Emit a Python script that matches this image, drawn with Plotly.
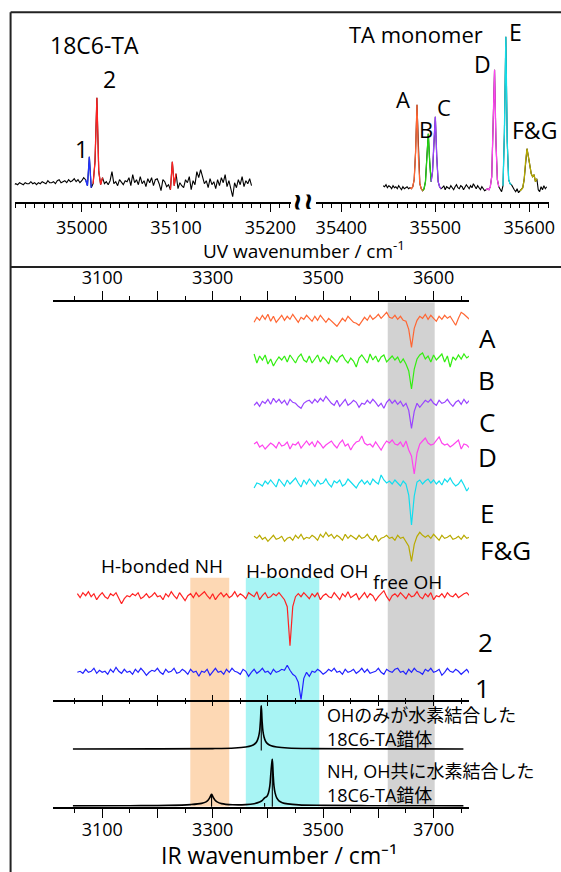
import plotly.graph_objects as go

W, H = 561, 872
FONT = "Comic Sans MS, Open Sans, Noto Sans CJK JP, sans-serif"

# ------------------------------------------------------------------ data
# UV spectrum, left part (18C6-TA complex region)
UV_LEFT_START = 34928.0
UV_LEFT_STEP = 2.0
UV_LEFT_SIGNAL = [
    17, 18, 17, 19, 18, 17, 19, 18, 18, 20,
    18, 19, 17, 19, 18, 20, 19, 18, 21, 19,
    19, 20, 18, 21, 22, 19, 20, 21, 19, 22,
    20, 21, 23, 20, 22, 19, 21, 24, 22, 16,
    45, 14, 18, 40, 104, 30, 17, 24, 18, 20,
    17, 21, 30, 18, 20, 16, 22, 19, 17, 21,
    20, 24, 16, 27, 19, 22, 17, 25, 18, 21,
    15, 23, 19, 24, 16, 22, 23, 18, 11, 22,
    20, 15, 17, 12, 40, 16, 28, 13, 19, 16,
    14, 22, 19, 25, 12, 21, 17, 30, 24, 32,
    26, 18, 21, 14, 23, 17, 20, 13, 22, 16,
    24, 19, 27, 15, 21, 11, 5, 19, 14, 22,
    17, 25, 15, 21, 18, 23, 16,
]
# UV spectrum, right part (TA monomer region)
UV_RIGHT_START = 35444.5
UV_RIGHT_STEP = 1.5
UV_RIGHT_SIGNAL = [
    16, 15, 17, 14, 16, 15, 13, 16, 14, 15,
    13, 16, 14, 12, 15, 13, 14, 15, 13, 14,
    13, 15, 22, 50, 97, 45, 18, 13, 11, 13,
    20, 45, 68, 40, 20, 30, 60, 85, 45, 20,
    15, 13, 14, 16, 12, 15, 14, 13, 16, 14,
    12, 15, 17, 14, 13, 16, 15, 12, 14, 17,
    15, 13, 16, 14, 18, 15, 13, 16, 14, 12,
    15, 13, 11, 12, 13, 12, 15, 25, 70, 132,
    60, 22, 15, 13, 10, 16, 70, 165, 60, 22,
    18, 17, 14, 12, 10, 13, 9, 11, 12, 14,
    22, 40, 53, 45, 35, 28, 25, 27, 20, 23,
    12, 10, 15, 12, 16, 13, 15,
]
# coloured band assignments (wavenumber ranges of each UV band)
UV_LEFT_BANDS = [("1", 35003, 35011), ("2", 35011, 35023), ("2", 35093, 35101)]
UV_RIGHT_BANDS = [("A", 35472, 35488), ("B", 35486.5, 35495.5), ("C", 35495.5, 35506),
                  ("D", 35554, 35568), ("E", 35572, 35581), ("F&G", 35590, 35609)]
UV_LEFT_TICKS = [35000, 35100, 35200]
UV_RIGHT_TICKS = [35400, 35500, 35600]

# IR dip spectra (monomer bands A..F&G)
IR_MONO_START = 3375
IR_STEP = 5
IR_A = [-3, 2, -1, 4, 0, 5, -2, 3, -3, 1,
        4, -1, 3, 0, 5, 1, -3, 2, 0, 4,
        1, -2, 3, -1, 4, 0, -3, 1, -2, -4,
        -7, -3, 1, -2, 3, 0, -3, -4, -6, -2,
        2, -1, 4, 0, 2, 5, 1, 4, 7, 2,
        1, 4, 0, 3, -1, -2, -10, -28, -9, -1,
        3, 1, 5, 0, 4, 1, -2, 3, 0, 4,
        1, 3, -2, -6, 1, 7, 5, 2, 0]
IR_B = [6, -3, 4, 0, 5, -4, 1, -6, -1, 3,
        0, 4, -2, 5, 1, -3, 3, 6, 0, -2,
        4, -3, 1, 5, -2, 3, 0, -4, 4, 1,
        -2, 3, 5, 0, -3, 2, -1, -7, 2, 5,
        1, -3, 6, 0, 4, -2, 3, 5, -2, 1,
        4, 0, 3, -3, 1, -4, -11, -29, -9, 1,
        5, 7, 1, 4, -2, 5, 0, 3, 6, -2,
        4, -7, 3, 0, 5, 1, 6, 2, 4]
IR_C = [-2, 1, -3, 2, 0, 4, -1, 5, 1, 4,
        0, 3, -2, 4, 1, 0, -3, -5, 0, 2,
        3, 0, 4, 1, 5, 2, 7, 3, 0, -2,
        3, -3, 1, 4, -2, 0, 3, 1, -4, 0,
        -1, 3, 0, 4, 1, -3, 0, -5, 1, 4,
        0, 3, -1, 2, -3, 0, -7, -25, -8, 0,
        -4, 0, 3, 1, 4, 0, -2, 3, 0, 1,
        4, 0, -3, 1, 3, -1, 4, 0, 3]
IR_D = [1, 3, -2, 0, -4, -1, 2, 0, -3, 3,
        -1, 0, 3, -4, 1, 0, 3, -3, 1, 4,
        0, 3, -2, 4, 1, -3, 0, 2, 4, 0,
        -3, 2, 5, -1, 1, -5, 0, 3, 4, 9,
        2, 0, 1, -2, 3, -1, -5, 0, 4, 2,
        5, 1, 0, 3, -2, 4, -5, -11, -29, -8,
        1, 4, 7, 2, 0, 1, 5, 8, 2, 0,
        1, -2, 0, 3, 5, -4, 1, 0, -3]
IR_E = [-4, 1, 0, -2, 3, 0, 4, 1, -3, 5,
        1, -2, 4, 0, 3, 6, 1, -3, 4, 0,
        5, 2, -2, 4, 0, 1, 5, 0, -3, 3,
        1, 4, -2, 0, 5, 2, -1, -4, 1, 4,
        0, 3, -1, 5, 2, 0, 9, 4, 1, 3,
        0, 4, 1, -2, 3, 0, -11, -41, -12, 2,
        4, 0, 3, 5, 1, 4, 0, 3, -1, 5,
        2, 6, 1, -2, 0, 4, -1, -7, -3]
IR_FG = [2, 0, 3, -1, 1, -3, 0, 3, -1, 0,
         2, -3, 0, 1, -2, 3, 0, 4, -1, 1,
         0, 3, 1, -2, 4, 1, 6, 2, 4, 0,
         3, 1, -2, 4, 0, 3, 1, -1, 3, 0,
         1, 4, 0, -2, 3, -3, 0, 1, 3, 0,
         1, -2, 3, 0, 1, -3, -8, -23, -6, 2,
         6, 3, 1, 3, 0, 4, 1, -2, 3, 0,
         1, 3, -1, 0, 2, -1, 3, 0, 1]
# IR dip spectra of the 18C6-TA complex bands 2 and 1
IR_CPLX_START = 3055
IR_2 = [3, -1, 4, 1, 5, 0, 3, -3, 1, 4,
        0, -2, 3, 1, 4, -1, -7, -2, 1, 0,
        3, 1, 4, -2, 0, 3, -1, 1, 4, 0,
        1, -3, 3, 0, 5, 1, -2, 4, 0, -4,
        1, 3, -1, 4, 0, 3, 5, 1, -2, 3,
        -3, 1, 4, 0, 3, -1, 1, 5, 0, 3,
        1, -2, 4, 2, 0, 5, -3, 1, 4, -1,
        0, 3, 1, 4, 0, -3, -10, -49, -10, 0,
        3, 0, 4, 1, -2, 3, 0, 4, -3, 1,
        3, 0, -1, 4, 1, -3, 3, 0, 5, -1,
        1, 3, -3, 0, 4, -1, 3, 1, -4, 0,
        3, 6, 0, -4, 1, 3, 0, 4, 1, -2,
        3, 0, 1, 5, 0, -2, 3, 0, 4, -3,
        1, 0, 3, -1, 4, 1, 0, 3, -1, 1,
        3, 4, 1]
IR_1 = [0, 1, -1, 3, 0, 1, 4, -1, 2, 0,
        1, -2, 3, 0, 5, 1, -1, 3, 0, 1,
        -2, 3, 0, 4, 1, -3, 0, 2, 1, 4,
        0, -2, 3, 0, 1, 4, -1, 0, 3, 1,
        -2, 3, 0, 1, -4, 1, 0, 3, -3, 1,
        4, 0, 1, -2, 3, 0, 4, 1, 0, -2,
        3, 1, -4, 0, 3, -1, 1, 4, 0, 1,
        -2, 3, 0, 1, 3, 2, 7, 2, -2, -4,
        -10, -27, -6, 0, -4, 1, 0, 3, 1, -2,
        0, 3, 1, 4, 0, 1, -2, 3, 0, 1,
        3, -1, 1, 4, 0, 3, -1, 0, 1, 4,
        0, -2, 3, 1, 0, 3, 4, 0, 1, -2,
        3, 0, 4, 1, 0, -2, 3, 1, 4, 0,
        1, 3, -3, 0, 4, 1, 0, 3, 1, -2,
        1, 3, -1]

# calculated IR spectra (OH-only bonded / NH,OH bonded complex)
CALC1_X = [3047, 3200, 3300, 3340, 3360, 3370, 3376, 3380, 3383, 3385, 3386.5, 3388,
           3389.5, 3391, 3393, 3396, 3400, 3406, 3416, 3436, 3480, 3550, 3650, 3754]
CALC1_Y = [0, 0.1, 0.4, 1.0, 2.0, 3.2, 5.0, 7.5, 12, 18, 28, 43.3,
           28, 18, 12, 7.5, 5.0, 3.2, 2.0, 1.0, 0.4, 0.2, 0.1, 0]
CALC2_X = [3047, 3150, 3220, 3260, 3280, 3288, 3292, 3295, 3296.5, 3298, 3299.5, 3301,
           3304, 3308, 3316, 3336, 3360, 3375, 3385, 3390, 3394, 3398, 3401, 3403.5,
           3405, 3406.5, 3408, 3409.5, 3411, 3413, 3416, 3420, 3426, 3436, 3456, 3500,
           3580, 3680, 3754]
CALC2_Y = [0, 0.2, 0.5, 1.3, 2.5, 4.0, 6.0, 8.5, 10.3, 11.7, 10.3, 8.5,
           6.0, 4.0, 2.3, 1.2, 1.3, 2.2, 3.8, 5.5, 8.0, 9.5, 13, 20,
           30, 40, 46.7, 32, 20, 13, 8, 5, 3.2, 2, 1, 0.5,
           0.2, 0.1, 0]
STICK1_X = [3388]
STICK1_Y = [43.3]
STICK2_X = [3298, 3394, 3408]
STICK2_Y = [11.7, 3.0, 46.7]

IR_TICKVALS = [3100, 3200, 3300, 3400, 3500, 3600, 3700]
IR_LABEL_VALS = [3100, 3300, 3500, 3700]
IR_BOTTOM_LABELS = ["3100", "3300", "3500", "3700"]
IR_TOP_LABELS = ["3100", "3300", "3500", "3600"]

BAND_NH = (3259.5, 3330)
BAND_HOH = (3360, 3493)
BAND_FREE = (3617, 3702)

# ------------------------------------------------------------------ styles / layout
COL = {"1": "#2233FF", "2": "#FF2222", "A": "#FF6633", "B": "#22D411", "C": "#9944FF",
       "D": "#FF44F0", "E": "#11DDE8", "F&G": "#B5A800"}
COL_IR = {"A": "#FF6633", "B": "#33EE11", "C": "#9944FF", "D": "#FF44EE",
          "E": "#11DDEE", "F&G": "#B8AA00", "2": "#FF2222", "1": "#2222FF"}
# vertical offsets of stacked IR traces (y2 units, px above the bottom axis)
OFF = {"A": 487.4, "B": 446.7, "C": 403.4, "D": 361.7, "E": 322.7, "F&G": 268.4,
       "2": 210.0, "1": 134.4, "calc1": 57.7, "calc2": 0.8}


def grid(start, step, n):
    return [start + step * i for i in range(n)]


fig = go.Figure()

# UV spectra
uvl_x = grid(UV_LEFT_START, UV_LEFT_STEP, len(UV_LEFT_SIGNAL))
uvr_x = grid(UV_RIGHT_START, UV_RIGHT_STEP, len(UV_RIGHT_SIGNAL))
fig.add_trace(go.Scatter(x=uvl_x, y=UV_LEFT_SIGNAL, xaxis="x", yaxis="y", mode="lines",
                         line=dict(color="black", width=1.1)))
fig.add_trace(go.Scatter(x=uvr_x, y=UV_RIGHT_SIGNAL, xaxis="x2", yaxis="y", mode="lines",
                         line=dict(color="black", width=1.1)))
for name, lo, hi in UV_LEFT_BANDS:
    pts = [(x, y) for x, y in zip(uvl_x, UV_LEFT_SIGNAL) if lo <= x <= hi]
    fig.add_trace(go.Scatter(x=[p[0] for p in pts], y=[p[1] for p in pts], xaxis="x", yaxis="y",
                             mode="lines", line=dict(color=COL[name], width=1.3)))
for name, lo, hi in UV_RIGHT_BANDS:
    pts = [(x, y) for x, y in zip(uvr_x, UV_RIGHT_SIGNAL) if lo <= x <= hi]
    fig.add_trace(go.Scatter(x=[p[0] for p in pts], y=[p[1] for p in pts], xaxis="x2", yaxis="y",
                             mode="lines", line=dict(color=COL[name], width=1.3)))

# IR spectra
for key, sig in [("A", IR_A), ("B", IR_B), ("C", IR_C), ("D", IR_D), ("E", IR_E), ("F&G", IR_FG)]:
    fig.add_trace(go.Scatter(x=grid(IR_MONO_START, IR_STEP, len(sig)), y=[OFF[key] + v for v in sig],
                             xaxis="x3", yaxis="y2", mode="lines",
                             line=dict(color=COL_IR[key], width=1.2)))
for key, sig in [("2", IR_2), ("1", IR_1)]:
    fig.add_trace(go.Scatter(x=grid(IR_CPLX_START, IR_STEP, len(sig)), y=[OFF[key] + v for v in sig],
                             xaxis="x3", yaxis="y2", mode="lines",
                             line=dict(color=COL_IR[key], width=1.2)))

# calculated spectra + sticks
for key, xs, ys, sx, sy in [("calc1", CALC1_X, CALC1_Y, STICK1_X, STICK1_Y),
                            ("calc2", CALC2_X, CALC2_Y, STICK2_X, STICK2_Y)]:
    fig.add_trace(go.Scatter(x=xs, y=[OFF[key] + v for v in ys], xaxis="x3", yaxis="y2",
                             mode="lines", line=dict(color="black", width=1.6, shape="spline")))
    lx, ly = [], []
    for x, h in zip(sx, sy):
        lx += [x, x, None]
        ly += [OFF[key] - 1.5, OFF[key] + h, None]
    fig.add_trace(go.Scatter(x=lx, y=ly, xaxis="x3", yaxis="y2", mode="lines",
                             line=dict(color="black", width=1.1)))

# empty traces so that the overlaid IR axes (top / middle / label axes) get drawn
for ax in ["x4", "x5", "x6", "x7", "x8"]:
    fig.add_trace(go.Scatter(x=[], y=[], xaxis=ax, yaxis="y2", mode="lines", hoverinfo="skip"))

# ------------------------------------------------------------------ axes
TICKFONT = dict(size=18, family=FONT, color="black")
base = dict(showgrid=False, zeroline=False, linecolor="black", linewidth=1.5,
            tickcolor="black", tickwidth=1.3, tickfont=TICKFONT, fixedrange=True)


def dom_x(a, b):
    return [a / W, b / W]


def dom_y(top, bottom):
    return [1 - bottom / H, 1 - top / H]


def minor(kind, length, dtick, tick0):
    return dict(ticks=kind, ticklen=length, dtick=dtick, tick0=tick0, tickcolor="black",
                tickwidth=1.2, showgrid=False)


IR_RANGE = [3010.4, 3764]
IR_DOM = dom_x(53.3, 474)
MID = 1 - 700.7 / H

layout_axes = dict(
    xaxis=dict(domain=dom_x(15, 294.3), range=[34929, 35222], anchor="y", ticks="outside", ticklen=9,
               showline=True, tickmode="array", tickvals=UV_LEFT_TICKS,
               ticktext=[str(v) for v in UV_LEFT_TICKS], minor=minor("outside", 5, 10, 34930), **base),
    xaxis2=dict(domain=dom_x(319, 555), range=[35372.6, 35621], anchor="y", ticks="outside", ticklen=9,
                showline=True, tickmode="array", tickvals=UV_RIGHT_TICKS,
                ticktext=[str(v) for v in UV_RIGHT_TICKS], minor=minor("outside", 5, 10, 35380), **base),
    yaxis=dict(domain=dom_y(14, 201.7), range=[0, 187.7], anchor="x", visible=False, fixedrange=True),
    # bottom IR axis: line, long unlabeled ticks, minor ticks
    xaxis3=dict(domain=IR_DOM, range=IR_RANGE, anchor="y2", side="bottom", ticks="outside", ticklen=10,
                showline=True, tickmode="array", tickvals=IR_TICKVALS, showticklabels=False,
                minor=minor("outside", 5, 50, 3050), **base),
    # bottom IR labels
    xaxis7=dict(overlaying="x3", range=IR_RANGE, anchor="y2", side="bottom", ticks="outside", ticklen=10,
                ticklabelstandoff=-3,
                showline=False, tickmode="array", tickvals=IR_LABEL_VALS, ticktext=IR_BOTTOM_LABELS, **base),
    # top IR axis
    xaxis4=dict(overlaying="x3", range=IR_RANGE, anchor="y2", side="top", ticks="outside", ticklen=10,
                showline=True, tickmode="array", tickvals=IR_TICKVALS, showticklabels=False,
                minor=minor("outside", 5, 50, 3050), **base),
    xaxis8=dict(overlaying="x3", range=IR_RANGE, anchor="y2", side="top", ticks="outside", ticklen=10,
                showline=False, tickmode="array", tickvals=IR_LABEL_VALS, ticktext=IR_TOP_LABELS, **base),
    # middle IR axis (ticks crossing the line)
    xaxis5=dict(overlaying="x3", range=IR_RANGE, anchor="free", position=MID, side="bottom",
                ticks="outside", ticklen=5, showline=True, tickmode="array", tickvals=IR_TICKVALS,
                showticklabels=False, minor=minor("outside", 3, 50, 3050), **base),
    xaxis6=dict(overlaying="x3", range=IR_RANGE, anchor="free", position=MID, side="bottom",
                ticks="inside", ticklen=6, showline=False, tickmode="array", tickvals=IR_TICKVALS,
                showticklabels=False, minor=minor("inside", 3, 50, 3050), **base),
    yaxis2=dict(domain=dom_y(302.3, 806.7), range=[0, 504.4], anchor="x3", visible=False, fixedrange=True),
)

# ------------------------------------------------------------------ shapes
shapes = []
for (x0, x1), col, ytop in [(BAND_NH, "#FDD8B4", 229), (BAND_HOH, "#A8F4F4", 229), (BAND_FREE, "#D2D2D2", 504.4)]:
    shapes.append(dict(type="rect", xref="x3", yref="y2", x0=x0, x1=x1, y0=0, y1=ytop,
                       fillcolor=col, line=dict(width=0), layer="below"))
BORDER = dict(color="#222222", width=2)
shapes.append(dict(type="line", xref="paper", yref="paper", x0=10.7 / W, x1=10.7 / W, y0=-0.01,
                   y1=1 - 12.3 / H, line=BORDER))
shapes.append(dict(type="line", xref="paper", yref="paper", x0=10.7 / W, x1=1.02, y0=1 - 12.3 / H,
                   y1=1 - 12.3 / H, line=BORDER))
shapes.append(dict(type="line", xref="paper", yref="paper", x0=10.7 / W, x1=1.02, y0=1 - 267 / H,
                   y1=1 - 267 / H, line=BORDER))

# ------------------------------------------------------------------ annotations


def ann(text, x, y, size, xanchor="center", **kw):
    return dict(text=text, x=x / W, y=1 - y / H, xref="paper", yref="paper", showarrow=False,
                font=dict(size=size, family=FONT, color="black"), xanchor=xanchor, yanchor="middle", **kw)


annotations = [
    ann("18C6-TA", 95.5, 45, 23),
    ann("2", 111, 79, 23),
    ann("1", 82, 149, 23),
    ann("TA monomer", 421, 34, 22),
    ann("E", 521, 32, 23),
    ann("D", 487.7, 64, 23),
    ann("A", 407.3, 99, 22),
    ann("B", 430.7, 129.3, 22),
    ann("C", 449.3, 107.3, 22),
    ann("F&G", 516, 130, 23, xanchor="left"),
    ann("UV wavenumber / cm<sup>-1</sup>", 307.5, 250, 19),
    ann("<b>~</b>", 302.5, 202, 30, textangle=90),
    ann("<b>~</b>", 313, 202, 30, textangle=90),
    ann("A", 493, 338, 26),
    ann("B", 492, 380, 26),
    ann("C", 492, 422, 26),
    ann("D", 493, 457, 26),
    ann("E", 492, 513, 26),
    ann("F&G", 511, 550, 26),
    ann("2", 491, 641.7, 26),
    ann("1", 488, 688.3, 26),
    ann("H-bonded NH", 163.7, 566, 19),
    ann("H-bonded OH", 310, 570.7, 19),
    ann("free OH", 412, 581.7, 19),
    ann("OHのみが水素結合した", 328.4, 715, 18, xanchor="left"),
    ann("18C6-TA錯体", 328.4, 739.3, 18, xanchor="left"),
    ann("NH, OH共に水素結合した", 328.4, 770.7, 18, xanchor="left"),
    ann("18C6-TA錯体", 328.4, 795, 18, xanchor="left"),
    ann("IR wavenumber / cm\u207b\u00b9", 281.7, 855, 23),
]

fig.update_layout(
    width=W, height=H, margin=dict(l=0, r=0, t=0, b=0),
    paper_bgcolor="white", plot_bgcolor="rgba(0,0,0,0)",
    showlegend=False, shapes=shapes, annotations=annotations,
    font=dict(family=FONT, color="black"),
    **layout_axes,
)

fig.write_html("out.html", config={"displayModeBar": False},
               post_script="document.body.style.margin='0px';document.body.style.overflow='hidden';")
